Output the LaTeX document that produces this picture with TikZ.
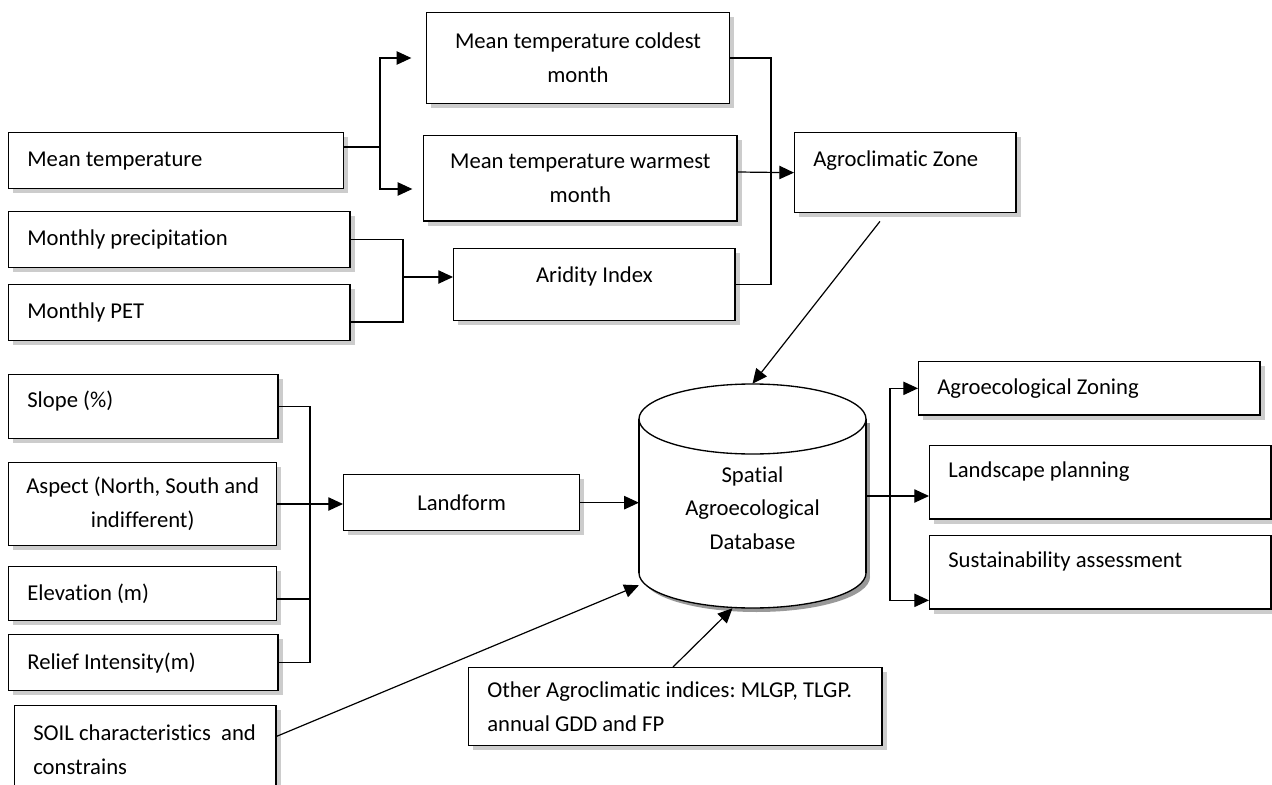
\documentclass[tikz,border=0pt]{standalone}
\usepackage{fontspec}
\setmainfont[Ligatures=NoCommon]{Carlito}
\usetikzlibrary{arrows.meta,calc,shadows}

\tikzset{
  box/.style={draw, fill=white, line width=1pt, anchor=north west, inner xsep=14pt, inner ysep=0pt,
    align=flush left, font=\fontsize{17}{25.5}\selectfont,
    drop shadow={shadow xshift=3.5pt, shadow yshift=-3.5pt, fill=gray!80}},
  cbox/.style={box, align=flush center},
  raised/.style={text height=12pt, text depth=#1},
  conn/.style={line width=0.9pt},
  arr/.style={conn, -{Triangle[length=11pt,width=10pt]}},
}

\begin{document}
\begin{tikzpicture}[x=0.75pt, y=-0.75pt]
			%%%%% START %%%%%
			\useasboundingbox (0,0) rectangle (1272,785);
			\clip (0,0) rectangle (1272,785);
			
			% database cylinder
			\fill[gray!80] (643,423) rectangle (870,577);
			\fill[gray!80] (756.5,577) ellipse [x radius=113.5, y radius=35];
			\fill[white] (639,419) rectangle (866,573);
			\fill[white] (752.5,573) ellipse [x radius=113.5, y radius=35];
			\draw[line width=1pt] (639,419) -- (639,573);
			\draw[line width=1pt] (866,419) -- (866,573);
			\begin{scope}
				\clip (600,573) rectangle (900,630);
				\draw[line width=1pt] (752.5,573) ellipse [x radius=113.5, y radius=35];
			\end{scope}
			\draw[line width=1pt, fill=white] (752.5,419) ellipse [x radius=113.5, y radius=35];
			\node[inner sep=0pt, minimum width=170pt, minimum height=168pt] (db) at (752.5,496) {};
			\node[align=flush center, font=\fontsize{17}{25}\selectfont] (dbtxt) at (752.5,508) {Spatial\\Agroecological\\Database};
			
			% climate inputs
			\node[box, text width=223pt, minimum height=42pt] (mtemp) at (8,132) {Mean temperature};
			\node[box, text width=228pt, minimum height=42pt] (precip) at (8,211) {Monthly precipitation};
			\node[box, text width=228pt, minimum height=42pt] (pet) at (8,284) {Monthly PET};
			\node[cbox, text width=199pt, minimum height=68pt] (cold) at (426,12) {Mean temperature coldest\\month};
			\node[cbox, text width=207pt, minimum height=64pt] (warm) at (423,135) {Mean temperature warmest\\month};
			\node[cbox, raised=16pt, text width=183pt, minimum height=54pt] (arid) at (453,248) {Aridity Index};
			\node[box, raised=22pt, text width=138pt, minimum height=60pt] (agro) at (794,132) {Agroclimatic Zone};
			
			% terrain inputs
			\node[box, raised=11.5pt, text width=174pt, minimum height=48pt] (slope) at (8,374) {Slope (\%)};
			\node[cbox, inner xsep=8pt, text width=185pt, minimum height=62pt] (aspect) at (8,462) {Aspect (North, South and\\indifferent)};
			\node[box, text width=173pt, minimum height=40.5pt] (elev) at (8,566) {Elevation (m)};
			\node[box, text width=174pt, minimum height=42pt] (relief) at (8,634) {Relief Intensity(m)};
			\node[box, text width=168pt, minimum height=66pt] (soil) at (14,705) {SOIL~characteristics~~and\\constrains};
			\node[cbox, text width=149pt, minimum height=42pt] (land) at (343,474) {Landform};
			\node[box, text width=282pt, minimum height=58.5pt] (other) at (468,667) {Other~Agroclimatic~indices:~MLGP,~TLGP.\\annual GDD and FP};
			
			% outputs
			\node[box, text width=228pt, minimum height=40pt] (zoning) at (918,361) {Agroecological Zoning};
			\node[box, raised=19pt, text width=228pt, minimum height=55pt] (lands) at (929,445) {Landscape planning};
			\node[box, raised=19pt, text width=228pt, minimum height=55pt] (sust) at (929,535) {Sustainability assessment};
			
			% temperature fork
			\coordinate (j1) at (380,147);
			\draw[conn] (mtemp.east |- j1) -- (j1);
			\draw[arr] (j1) |- ([xshift=-11pt]cold.west);
			\draw[arr] (j1) |- ([xshift=-8pt,yshift=-8pt]warm.west);
			
			% precipitation fork
			\coordinate (j2) at (403,277);
			\draw[conn] (precip.east) -| (j2);
			\draw[conn] ([yshift=-7pt]pet.east) -| (j2);
			\draw[arr] (j2) -- (j2 -| arid.west);
			
			% agroclimatic zone
			\coordinate (j3) at (771,172);
			\draw[conn] (cold.east) -| (j3) |- (arid.east);
			\draw[arr] (warm.east |- j3) -- (agro.west);
			
			% landform fork
			\coordinate (j4) at (310,506);
			\draw[conn] (slope.east) -| (j4) |- (relief.east);
			\draw[conn] ([yshift=-4pt]elev.east) -- ([yshift=-4pt]elev.east -| j4);
			\draw[arr] (aspect.east) -- (aspect.east -| land.west);
			
			% into the database
			\draw[arr] (land.east) -- (land.east -| db.west);
			\draw[arr] ([yshift=10pt]soil.east) -- ($(db.south west)+(0,-23)$);
			\draw[arr] ($(other.north west)+(205,0)$) -- ($(db.south)+(-20,0)$);
			\draw[arr] ($(agro.south west)+(86,8)$) -- (db.north);
			
			% out of the database
			\coordinate (j5) at (890,496);
			\draw[conn] (db.east) -- (j5);
			\draw[arr] (j5) |- (zoning.west);
			\draw[arr] (j5) -- (j5 -| lands.west);
			\draw[arr] (j5) |- ([yshift=-21pt]sust.west);
			
			%%%%% END %%%%%
\end{tikzpicture}
\end{document}
